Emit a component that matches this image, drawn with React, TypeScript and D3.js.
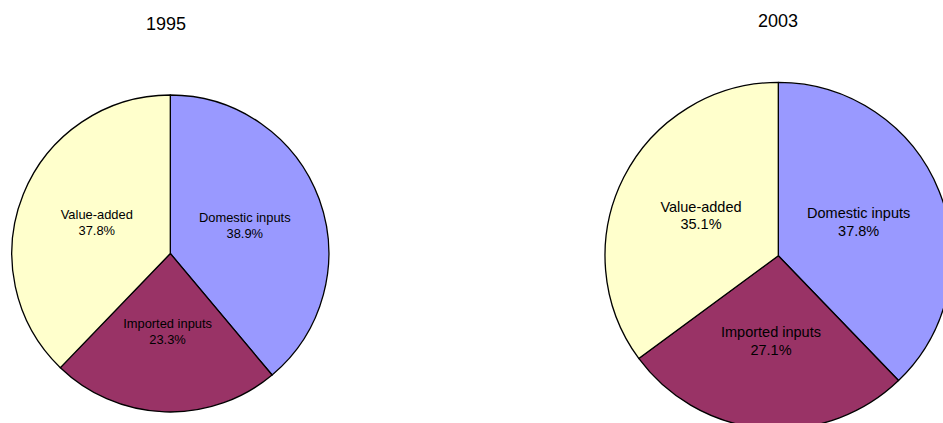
import React from "react";
import * as d3 from "d3";

const categories = ["Domestic inputs", "Imported inputs", "Value-added"];
const years = ["1995", "2003"];
const values1995 = [38.9, 23.3, 37.8];
const values2003 = [37.8, 27.1, 35.1];
const colors = ["#9999FF", "#993366", "#FFFFCC"];

const W = 943;
const H = 423;

type PieSpec = {
  title: string;
  values: number[];
  cx: number;
  cy: number;
  r: number;
  titleX: number;
  titleY: number;
  fs: number;
};

const pies: PieSpec[] = [
  { title: years[0], values: values1995, cx: 170.3, cy: 253.5, r: 158.5, titleX: 166, titleY: 30, fs: 12.9 },
  { title: years[1], values: values2003, cx: 778.3, cy: 255.7, r: 173.3, titleX: 778, titleY: 26.5, fs: 14.5 },
];

function Pie({ spec }: { spec: PieSpec }) {
  const data = spec.values.map((v, i) => ({ v, i }));
  const pie = d3
    .pie<{ v: number; i: number }>()
    .value((d) => d.v)
    .sort(null)
    .startAngle(0)
    .endAngle(2 * Math.PI);
  const arcs = pie(data);
  const arc = d3
    .arc<d3.PieArcDatum<{ v: number; i: number }>>()
    .innerRadius(0)
    .outerRadius(spec.r);
  return (
    <g>
      <text
        x={spec.titleX}
        y={spec.titleY}
        textAnchor="middle"
        fontSize={18}
        fill="#000"
      >
        {spec.title}
      </text>
      <g transform={`translate(${spec.cx},${spec.cy})`}>
        {arcs.map((a) => (
          <path
            key={a.data.i}
            d={arc(a) || ""}
            fill={colors[a.data.i]}
            stroke="#000"
            strokeWidth={1.3}
            strokeLinejoin="round"
          />
        ))}
        {arcs.map((a) => {
          const [x, y] = arc.centroid(a);
          return (
            <text
              key={"t" + a.data.i}
              textAnchor="middle"
              fontSize={spec.fs}
              fill="#000"
            >
              <tspan x={x} y={y - spec.fs * 0.35}>
                {categories[a.data.i]}
              </tspan>
              <tspan x={x} y={y + spec.fs * 0.87}>
                {a.data.v.toFixed(1) + "%"}
              </tspan>
            </text>
          );
        })}
      </g>
    </g>
  );
}

export default function App() {
  return (
    <svg
      width={W}
      height={H}
      viewBox={`0 0 ${W} ${H}`}
      style={{
        position: "absolute",
        left: 0,
        top: 0,
        background: "#fff",
        fontFamily: "Arial, 'Liberation Sans', sans-serif",
        overflow: "hidden",
      }}
    >
      <rect x={0} y={0} width={W} height={H} fill="#fff" />
      {pies.map((p) => (
        <Pie key={p.title} spec={p} />
      ))}
    </svg>
  );
}
